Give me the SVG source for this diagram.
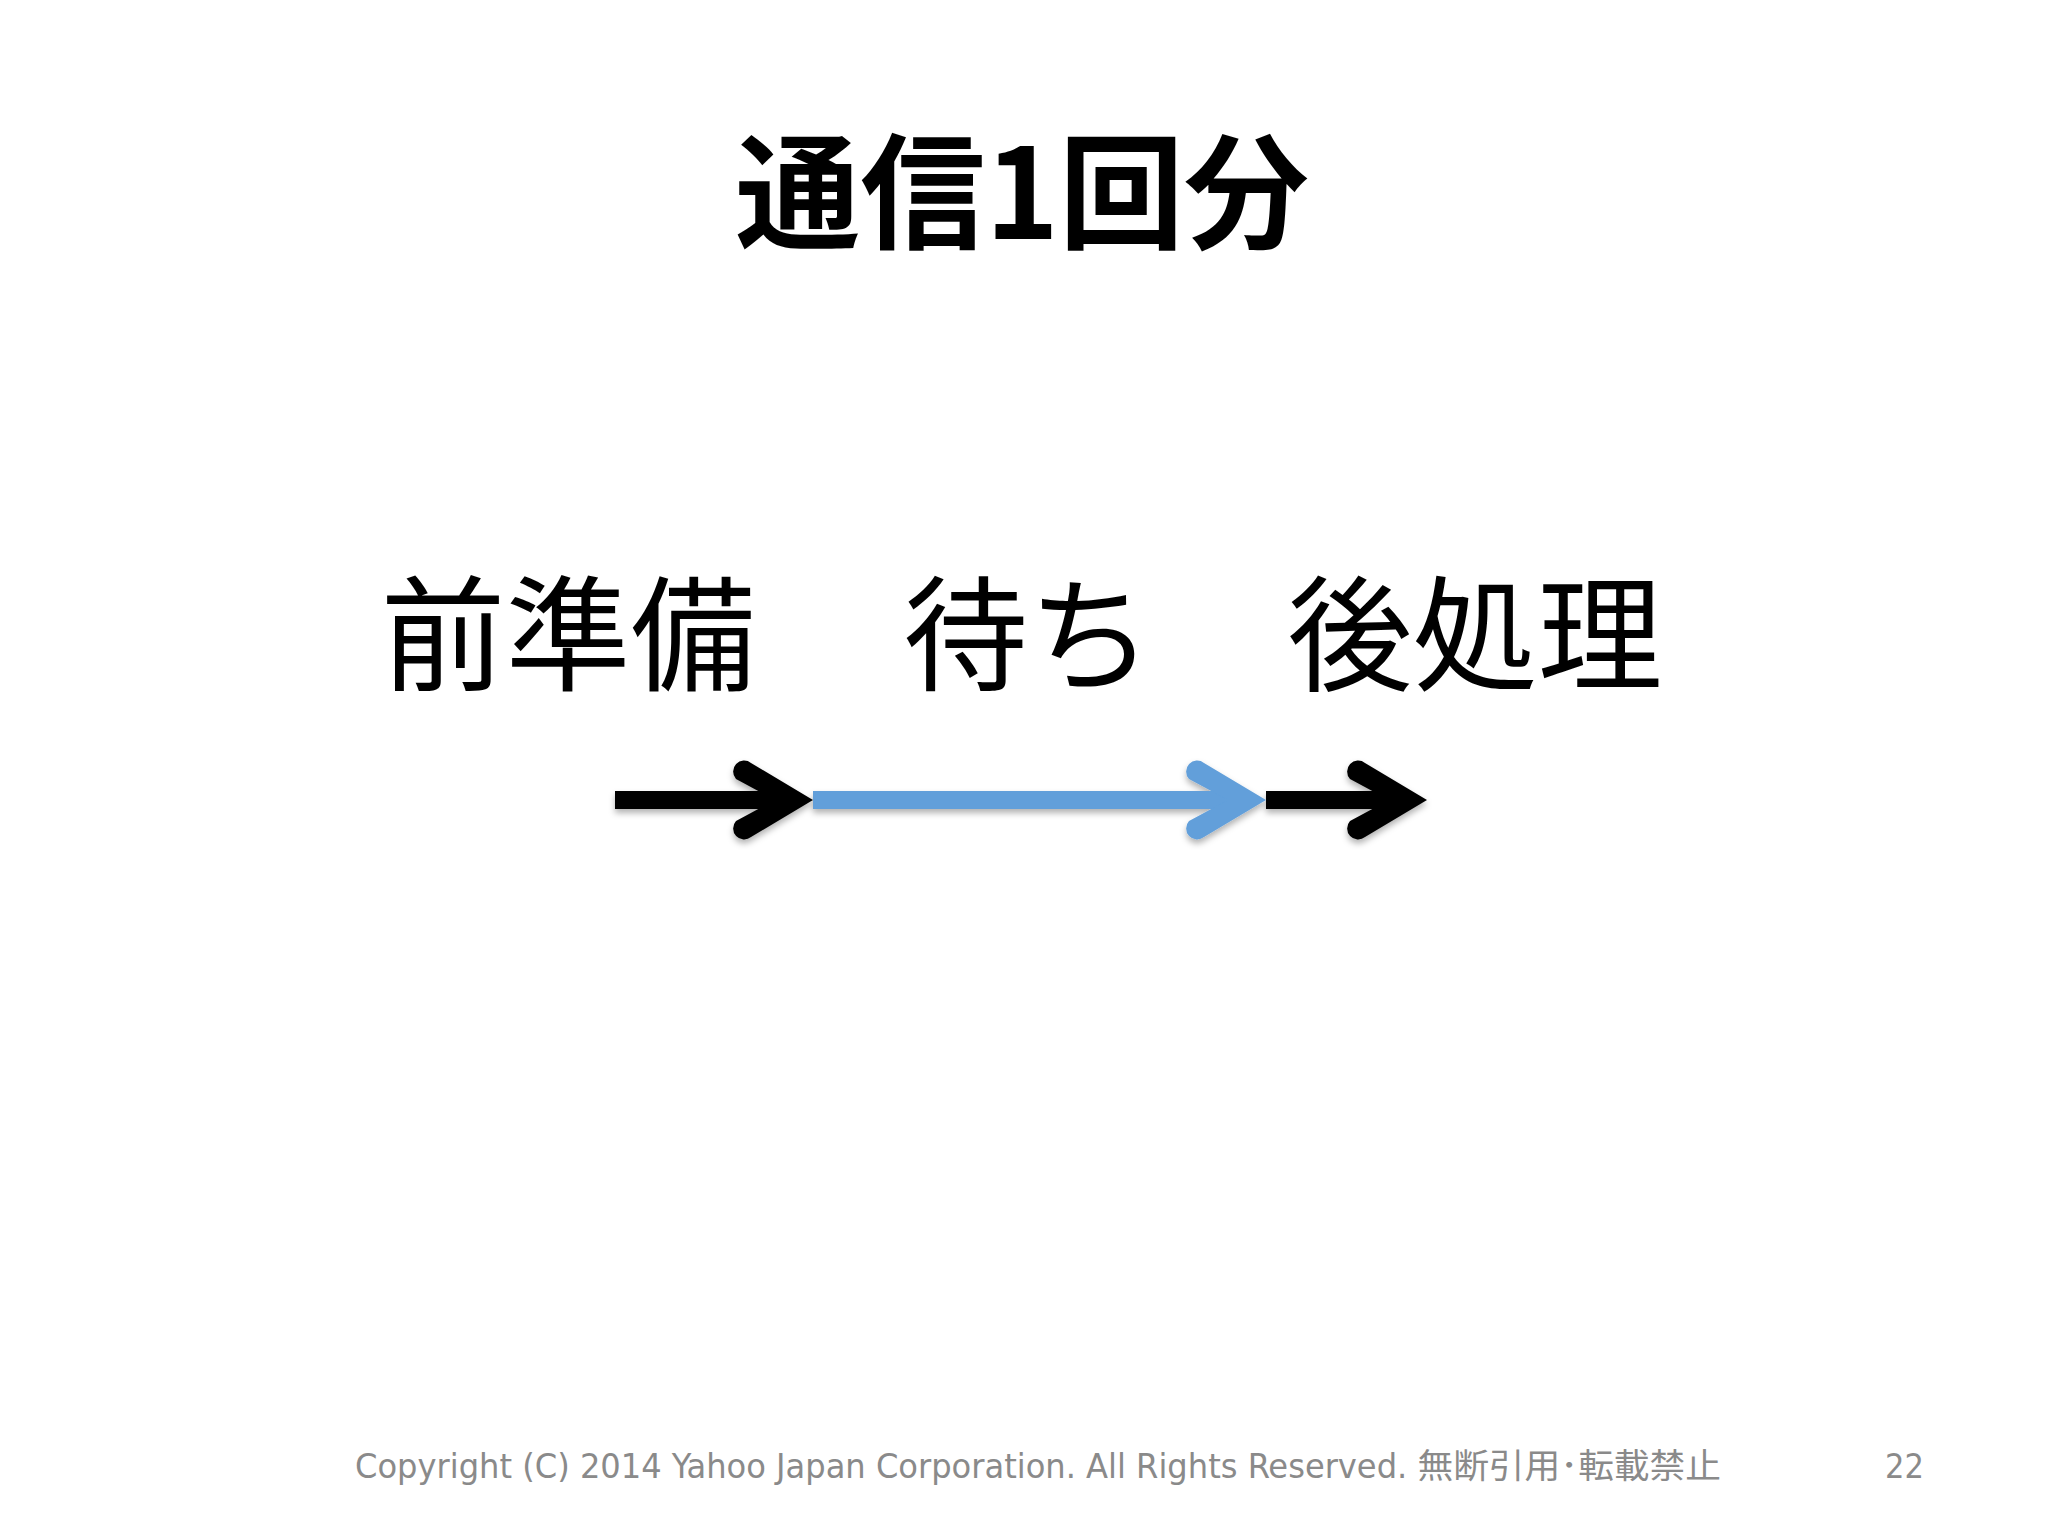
<svg xmlns="http://www.w3.org/2000/svg" width="2048" height="1536" viewBox="0 0 2048 1536">
<defs>
<style>
.title{font-family:"Noto Sans CJK JP","Noto Sans",sans-serif;font-weight:700;font-size:125px;fill:#000;text-anchor:middle}
.label{font-family:"Noto Sans CJK JP","Noto Sans",sans-serif;font-weight:400;font-size:125px;fill:#000;text-anchor:middle}
.foot{font-family:"DejaVu Sans Condensed","Liberation Sans","Noto Sans CJK JP",sans-serif;font-size:34px;fill:#8a8a8a}
.black{fill:#000}
.blue{fill:#629fda}
</style>
<filter id="sh" x="-10%" y="-50%" width="120%" height="200%">
<feDropShadow dx="0" dy="4" stdDeviation="3" flood-color="#000" flood-opacity="0.3"/>
</filter>
</defs>
<rect width="2048" height="1536" fill="#fff"/>
<g id="title"><text class="title" x="1022" y="239">通信1回分</text></g>
<g id="node-prep"><text class="label" x="568" y="681">前準備</text></g>
<g id="node-wait"><text class="label" x="1028" y="681">待ち</text></g>
<g id="node-post"><text class="label" x="1475" y="681">後処理</text></g>
<g id="connectors" filter="url(#sh)">
<g id="arrow-prep">
<rect class="black" x="615" y="791" width="170" height="18"/>
<path class="black" d="M813,800 L751,763 A11,11 0 0 0 736,779 L775,800 L736,821 A11,11 0 0 0 751,837 Z"/>
</g>
<g id="arrow-wait">
<rect class="blue" x="813" y="791" width="425" height="18"/>
<path class="blue" d="M1266,800 L1204,763 A11,11 0 0 0 1189,779 L1228,800 L1189,821 A11,11 0 0 0 1204,837 Z"/>
</g>
<g id="arrow-post">
<rect class="black" x="1266" y="791" width="134" height="18"/>
<path class="black" d="M1427,800 L1365,763 A11,11 0 0 0 1350,779 L1389,800 L1350,821 A11,11 0 0 0 1365,837 Z"/>
</g>
</g>
<g id="footer">
<text class="foot" x="355" y="1478" textLength="1366" lengthAdjust="spacingAndGlyphs">Copyright (C) 2014 Yahoo Japan Corporation. All Rights Reserved. 無断引用･転載禁止</text>
<text class="foot" x="1924" y="1478" text-anchor="end">22</text>
</g>
</svg>
